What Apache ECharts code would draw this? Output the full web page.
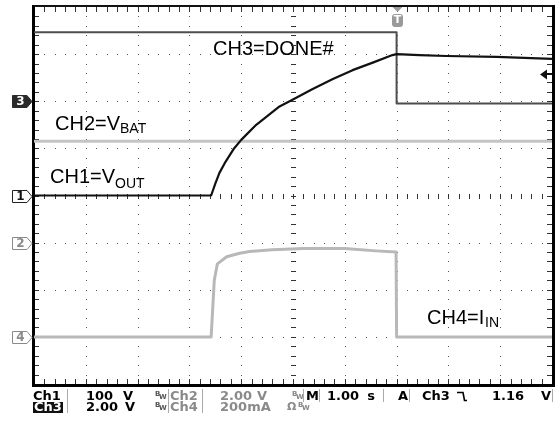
<!DOCTYPE html>
<html><head><meta charset="utf-8">
<script src="https://cdn.jsdelivr.net/npm/echarts@6/dist/echarts.min.js"></script>
<style>html,body{margin:0;padding:0;background:#fff}#c{width:560px;height:427px}</style>
</head><body><div id="c"></div>
<script>
// Horizontal: 1.00 s/div over 10 divisions; vertical: 8 divisions
const timeMin = 0, timeMax = 10;
const divMin = -4, divMax = 4;

// Channel scale (units per division) and ground marker position (divisions from centre)
const ch1Scale = 100, ch1Ref = 0;   // VOUT, V/div
const ch2Scale = 2, ch2Ref = -1;    // VBAT, V/div
const ch3Scale = 2, ch3Ref = 2;     // DONE#, V/div
const ch4Scale = 0.2, ch4Ref = -3;  // IIN, A/div
const trigTime = 7.0;               // trigger position, s
const trigLevel = 1.16;             // Ch3 falling-edge trigger level, V

// CH1 = VOUT (V)
const ch1Time = [0, 3.42, 3.50, 3.58, 3.70, 3.85, 4.00, 4.29, 4.74, 4.99, 5.38, 5.77, 6.15, 6.54, 6.92, 7.00, 7.44, 7.96, 8.93, 10];
const ch1Vals = [0, 0, 25, 48, 72, 98, 118, 150, 189, 203, 226, 247, 266, 282, 298, 300, 298, 296, 294, 290];

// CH2 = VBAT (V)
const ch2Time = [0, 10];
const ch2Vals = [4.3, 4.3];

// CH3 = DONE# (V)
const ch3Time = [0, 7.0, 7.0, 10];
const ch3Vals = [2.93, 2.93, -0.1, -0.1];

// CH4 = IIN (A)
const ch4Time = [0, 3.42, 3.43, 3.45, 3.48, 3.54, 3.72, 3.97, 4.16, 4.6, 5.2, 6.0, 6.6, 6.99, 7.0, 10];
const ch4Vals = [0, 0, 0.04, 0.12, 0.24, 0.31, 0.34, 0.355, 0.362, 0.37, 0.375, 0.375, 0.365, 0.36, 0, 0];

function toDivs(times, vals, scale, ref) {
  return times.map((t, i) => [t, vals[i] / scale + ref]);
}

const chart = echarts.init(document.getElementById('c'), null, {renderer: 'canvas'});
const sansFont = '"Liberation Sans", Arial, sans-serif';
const readFont = '"DejaVu Sans", sans-serif';

// Graticule, channel ground markers, trigger markers
function renderScope(params, api) {
  const kids = [];
  const p = (x, y) => api.coord([x, y]);
  const tl = p(timeMin, divMax), br = p(timeMax, divMin);
  const px = (x, y, w, h, fill) => kids.push({type: 'rect', shape: {x, y, width: w, height: h}, style: {fill: fill, stroke: null}});
  const dot = '#555';
  // dotted division lines, one dot every fifth of a division
  for (let k = 1; k < 10; k++) {
    for (let j = 1; j < 40; j++) {
      const q = p(k, divMin + j * 0.2);
      px(Math.round(q[0]), Math.round(q[1]), 1, 1, dot);
    }
  }
  for (let k = 1; k < 8; k++) {
    for (let j = 1; j < 50; j++) {
      const q = p(j * 0.2, divMin + k);
      px(Math.round(q[0]), Math.round(q[1]), 1, 1, dot);
    }
  }
  const tk = '#333';
  // centre cross minor ticks
  const c = p(5, 0);
  const cx = Math.round(c[0]), cy = Math.round(c[1]);
  for (let j = 1; j < 40; j++) {
    const y = Math.round(p(5, divMin + j * 0.2)[1]);
    px(cx - 2, y, 5, 1, tk);
  }
  for (let j = 1; j < 50; j++) {
    const x = Math.round(p(j * 0.2, 0)[0]);
    px(x, cy - 2, 1, 5, tk);
  }
  // border minor ticks
  const x0 = Math.round(tl[0]), y0 = Math.round(tl[1]), x1 = Math.round(br[0]), y1 = Math.round(br[1]);
  for (let j = 1; j < 50; j++) {
    const x = Math.round(p(j * 0.2, 0)[0]);
    px(x, y0, 1, 5, tk);
    px(x, y1 - 5, 1, 5, tk);
  }
  for (let j = 1; j < 40; j++) {
    const y = Math.round(p(0, divMin + j * 0.2)[1]);
    px(x0, y, 5, 1, tk);
    px(x1 - 5, y, 5, 1, tk);
  }
  // frame
  px(x0 - 2, y0 - 2, x1 - x0 + 4, 2, '#111');
  px(x0 - 2, y1, x1 - x0 + 4, 3, '#000');
  px(x0 - 2, y0 - 2, 3, y1 - y0 + 5, '#000');
  px(x1, y0 - 2, 3, y1 - y0 + 5, '#000');

  // channel ground markers on the left edge
  const markers = [
    {label: '3', ref: ch3Ref, fill: '#2a2a2a', stroke: '#2a2a2a', text: '#fff'},
    {label: '1', ref: ch1Ref, fill: '#fff', stroke: '#222', text: '#111'},
    {label: '2', ref: ch2Ref, fill: '#fff', stroke: '#8a8a8a', text: '#8a8a8a'},
    {label: '4', ref: ch4Ref, fill: '#fff', stroke: '#8a8a8a', text: '#8a8a8a'}
  ];
  markers.forEach(m => {
    const q = p(timeMin, m.ref);
    const x = x0 - 2, y = Math.round(q[1]) + 0.5;
    kids.push({type: 'polygon', shape: {points: [[x - 19.5, y - 6], [x - 5, y - 6], [x, y], [x - 5, y + 6], [x - 19.5, y + 6]]},
      style: {fill: m.fill, stroke: m.stroke, lineWidth: 1}});
    kids.push({type: 'text', x: x - 11.5, y: y, style: {text: m.label, fill: m.text, font: 'bold 12px ' + readFont, align: 'center', verticalAlign: 'middle'}});
  });

  // trigger position pin on the top edge
  const tp = p(trigTime, divMax);
  const tx = Math.round(tp[0]) + 0.5;
  kids.push({type: 'polygon', shape: {points: [[tx - 5, y0], [tx + 5, y0], [tx, y0 + 5]]}, style: {fill: '#9a9a9a'}});
  kids.push({type: 'rect', shape: {x: tx - 5.5, y: y0 + 7, width: 11, height: 13, r: 3}, style: {fill: '#9a9a9a'}});
  kids.push({type: 'text', x: tx, y: y0 + 13.5, style: {text: 'T', fill: '#fff', font: 'bold 11px ' + readFont, align: 'center', verticalAlign: 'middle'}});

  // trigger level arrow on the right edge
  const lv = p(timeMax, ch3Ref + trigLevel / ch3Scale);
  const ly = Math.round(lv[1]) + 0.5;
  kids.push({type: 'polygon', shape: {points: [[x1 - 12, ly], [x1 - 5, ly - 5], [x1 - 5, ly + 5]]}, style: {fill: '#111'}});
  px(x1 - 6, Math.round(lv[1]) - 1, 6, 2, '#111');

  return {type: 'group', children: kids};
}

function trace(name, data, color, width, z) {
  return {name, type: 'line', data, showSymbol: false, symbol: 'none', z,
    lineStyle: {color, width, join: 'round'}, animation: false, silent: true};
}

// Readout area below the graticule
const g = [];
function txt(x, y, s, fill, size, align) {
  g.push({type: 'text', x, y, style: {text: s, fill: fill, font: 'bold ' + (size || 13) + 'px ' + readFont, verticalAlign: 'middle', align: align || 'left'}});
}
function sep(x, y1, y2) {
  g.push({type: 'rect', shape: {x: x, y: y1, width: 1, height: y2 - y1}, style: {fill: '#aaa'}});
}
function bw(x, y, fill) {
  txt(x, y - 2, 'B', fill, 7);
  txt(x + 4, y + 1, 'W', fill, 7);
}
const r1 = 396.5, r2 = 407.5;
const blk = '#000', gry = '#8a8a8a';
txt(33, r1, 'Ch1', blk);
sep(67, 389, 402); txt(86, r1, '100', blk); txt(133, r1, 'V', blk, 13, 'right'); bw(155, r1, '#555');
sep(168, 389, 402); txt(170, r1, 'Ch2', gry);
sep(202, 389, 402); txt(220, r1, '2.00', gry); txt(267, r1, 'V', gry, 13, 'right'); bw(292, r1, '#888');
sep(303, 389, 402); txt(306, r1, 'M', blk);
sep(319, 389, 402); txt(327, r1, '1.00', blk); txt(375, r1, 's', blk, 13, 'right');
sep(383, 389, 402); txt(398, r1, 'A', blk);
sep(409, 389, 402); txt(422, r1, 'Ch3', blk);
g.push({type: 'polyline', shape: {points: [[457, 392.5], [463, 392.5], [464.5, 400.5], [467, 400.5]]}, style: {stroke: '#000', lineWidth: 1.6, fill: null}});
txt(492, r1, '1.16', blk); txt(551, r1, 'V', blk, 13, 'right');
sep(552, 389, 402);
g.push({type: 'rect', shape: {x: 33, y: 402, width: 30, height: 11}, style: {fill: '#111'}});
txt(34, r2, 'Ch3', '#fff');
sep(67, 402, 413); txt(86, r2, '2.00', blk); txt(135, r2, 'V', blk, 13, 'right'); bw(155, r2, '#555');
sep(168, 402, 413); txt(170, r2, 'Ch4', gry);
sep(202, 402, 413); txt(220, r2, '200mA', gry); txt(287, r2, 'Ω', gry, 11); bw(298, r2, '#888');

// Trace labels
function lab(x, y, main, sub, subX, subDy) {
  g.push({type: 'text', x, y, style: {text: main, fill: '#000', font: '20px ' + sansFont, verticalAlign: 'middle'}});
  if (sub) g.push({type: 'text', x: subX, y: y + subDy, style: {text: sub, fill: '#000', font: '14px ' + sansFont, verticalAlign: 'middle'}});
}
lab(213, 49.5, 'CH3=DONE#');
lab(55, 124.5, 'CH2=V', 'BAT', 120, 5);
lab(50, 177.5, 'CH1=V', 'OUT', 115, 7);
lab(427, 318.5, 'CH4=I', 'IN', 485, 5);

chart.setOption({
  backgroundColor: '#fff',
  animation: false,
  grid: {left: 34, top: 7, width: 518, height: 377, containLabel: false},
  xAxis: {type: 'value', min: timeMin, max: timeMax, interval: 1, show: false},
  yAxis: {type: 'value', min: divMin, max: divMax, interval: 1, show: false},
  series: [
    {type: 'custom', renderItem: renderScope, data: [[0, 0]], z: 1, silent: true, clip: false},
    trace('CH2', toDivs(ch2Time, ch2Vals, ch2Scale, ch2Ref), '#c4c4c4', 3, 2),
    trace('CH4', toDivs(ch4Time, ch4Vals, ch4Scale, ch4Ref), '#b8b8b8', 3, 3),
    trace('CH3', toDivs(ch3Time, ch3Vals, ch3Scale, ch3Ref), '#4d4d4d', 2, 4),
    trace('CH1', toDivs(ch1Time, ch1Vals, ch1Scale, ch1Ref), '#111', 2.2, 5)
  ],
  graphic: g
});
</script></body></html>
